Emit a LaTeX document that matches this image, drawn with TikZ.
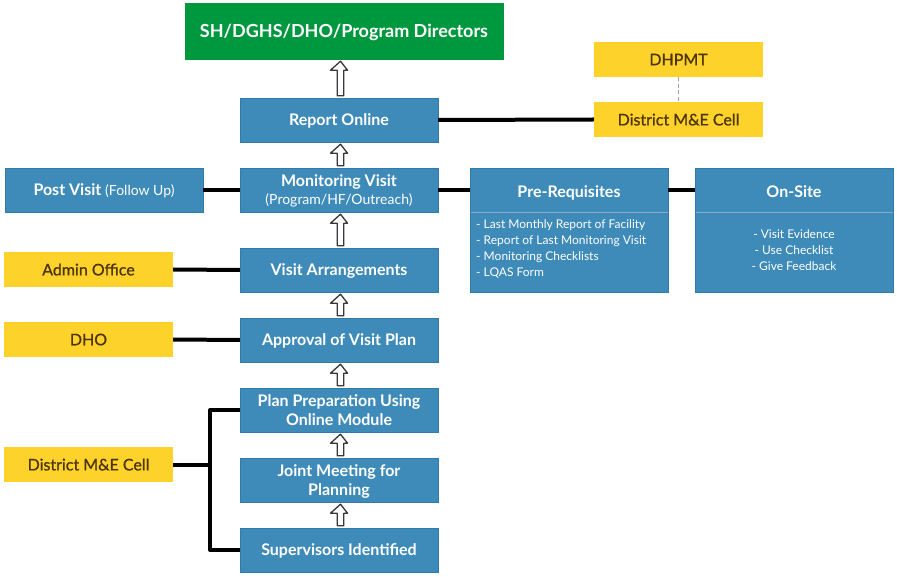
\documentclass[tikz,border=0pt]{standalone}
\usepackage{fontspec}
\setmainfont{Lato}
\newfontfamily\semifont[FakeBold=0.9]{Lato}
\usetikzlibrary{calc}
\definecolor{boxblue}{RGB}{62,139,186}
\definecolor{boxline}{RGB}{50,122,168}
\definecolor{boxgreen}{RGB}{0,152,62}
\definecolor{boxyellow}{RGB}{252,210,43}
\definecolor{yeltext}{RGB}{78,52,10}
\definecolor{arrowgray}{RGB}{55,55,60}
\begin{document}
\begin{tikzpicture}[x=1pt,y=-1pt,%
% common options for the blue steps:
block/.style = {draw=boxline, fill=boxblue, text=white, align=center,
            minimum width=198pt, minimum height=44pt, inner sep=0, text depth=-1.5pt,
            font=\bfseries\fontsize{16}{18.5}\selectfont},
% common options for the yellow offices:
office/.style = {fill=boxyellow, text=yeltext, align=center,
            minimum width=169pt, minimum height=35pt, inner sep=0, text depth=-1pt,
            font=\semifont\fontsize{16}{18}\selectfont},
% lists inside the tall boxes:
items/.style = {text=white, inner sep=0, font=\fontsize{12}{16}\selectfont},
% thick black links and hollow up arrows:
link/.style = {line width=4pt, line join=round},
hollow/.style = {draw=arrowgray, fill=white, line width=1.3pt, line join=round, to path={
    let \p1=(\tikztostart), \p2=(\tikztotarget) in
    (\x1-1.8pt,\y1+2pt) -- (\x1-1.8pt,\y2-11pt) -- (\x1-8.5pt,\y2-11pt) -- (\x1+1.5pt,\y2-2pt)
    -- (\x1+8.5pt,\y2-11pt) -- (\x1+4.8pt,\y2-11pt) -- (\x1+4.8pt,\y1+2pt) -- cycle}}]
\useasboundingbox (0,0) rectangle (897,577);
% top level
\node[block, fill=boxgreen, draw=boxgreen, minimum width=318pt, minimum height=56pt,
      font=\bfseries\fontsize{18}{20}\selectfont] (M0) at (344,31) {SH/DGHS/DHO/Program Directors};
% main column
\node[block] (M1) at (339,120) {Report Online};
\node[block] (M2) at (339,190) {Monitoring Visit\\[-0.5pt]{\normalfont\fontsize{14}{15}\selectfont(Program/HF/Outreach)}};
\node[block] (M3) at (339,270) {Visit Arrangements};
\node[block] (M4) at (339,340) {Approval of Visit Plan};
\node[block] (M5) at (339,410) {Plan Preparation Using\\Online Module};
\node[block] (M6) at (339,480) {Joint Meeting for\\Planning};
\node[block] (M7) at (339,550) {Supervisors Identified};
% side boxes
\node[block] (S1) at (104,190) {Post Visit {\normalfont\fontsize{14}{15}\selectfont(Follow Up)}};
\node[block, minimum height=124pt] (P) at (569,230) {};
\node[block, minimum height=124pt] (Q) at (794,230) {};
\draw[draw=boxline!60!white, line width=0.8pt] (470.5,212) -- (667.5,212);
\draw[draw=boxline!60!white, line width=0.8pt] (695.5,212) -- (892.5,212);
\node[text=white, text depth=0pt, font=\bfseries\fontsize{16}{18}\selectfont] (P0) at (569,191.5) {Pre-Requisites};
\node[text=white, text depth=0pt, font=\bfseries\fontsize{16}{18}\selectfont] (Q0) at (794,191.5) {On-Site};
\node[items, align=left, anchor=west] (P1) at (476,248.5) {- Last Monthly Report of Facility\\- Report of Last Monitoring Visit\\- Monitoring Checklists\\- LQAS Form};
\node[items, align=center] (Q1) at (794,250.5) {- Visit Evidence\\- Use Checklist\\- Give Feedback};
% offices
\node[office] (Y1) at (678.5,59.5) {DHPMT};
\node[office] (Y2) at (678.5,119.5) {District M\&E Cell};
\node[office] (Y3) at (88.5,269.5) {Admin Office};
\node[office] (Y4) at (88.5,339.5) {DHO};
\node[office] (Y5) at (88.5,464.5) {District M\&E Cell};
% links
\draw[link] (M1.east) -- (Y2.west);
\draw[link] (S1.east) -- (M2.west);
\draw[link] (M2.east) -- (M2.east -| P.west);
\draw[link] (M2.east -| P.east) -- (M2.east -| Q.west);
\draw[link] (Y3.east) -- (M3.west);
\draw[link] (Y4.east) -- (M4.west);
\coordinate (J) at (210,464.5);
\draw[link] (Y5.east) -- (J);
\draw[link] (M5.west) -| (J) |- (M7.west);
\draw[gray!75, line width=1.6pt, dash pattern=on 4pt off 2.5pt] (Y1.south) -- (Y2.north);
% hollow arrows
\draw[hollow] (M1.north) to (M0.south);
\draw[hollow] (M2.north) to (M1.south);
\draw[hollow] (M3.north) to (M2.south);
\draw[hollow] (M4.north) to (M3.south);
\draw[hollow] (M5.north) to (M4.south);
\draw[hollow] (M6.north) to (M5.south);
\draw[hollow] (M7.north) to (M6.south);
\end{tikzpicture}
\end{document}
